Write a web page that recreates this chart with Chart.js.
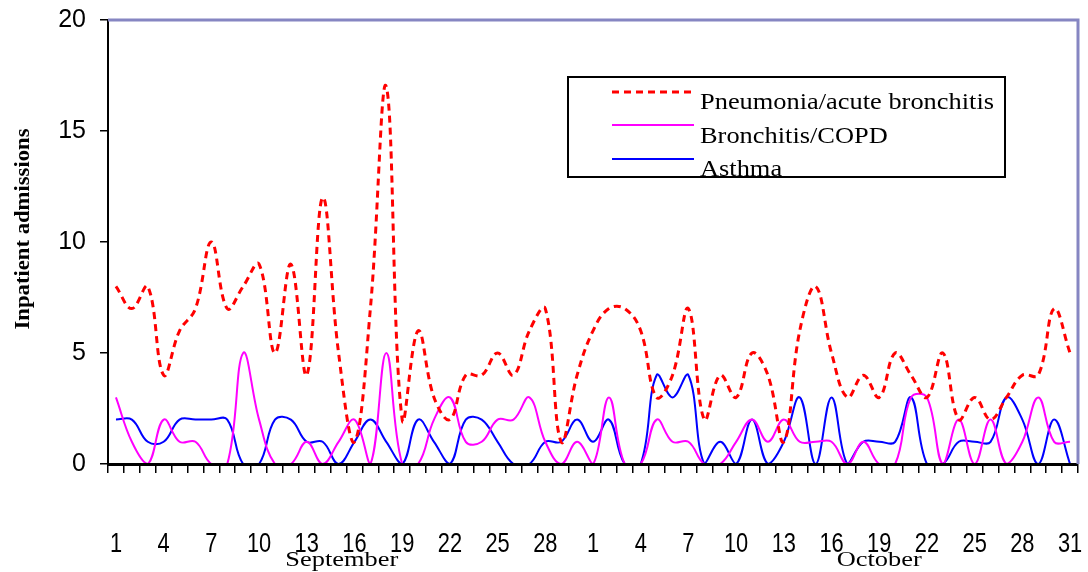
<!DOCTYPE html>
<html>
<head>
<meta charset="utf-8">
<script src="https://cdn.jsdelivr.net/npm/chart.js@4.4.0/dist/chart.umd.min.js"></script>
<style>
  html, body { margin: 0; padding: 0; background: #fff; }
</style>
</head>
<body>
<canvas id="chart" width="1088" height="572"></canvas>
<script>
// Categories: September 1-30 then October 1-31
const days = [
  '1','2','3','4','5','6','7','8','9','10','11','12','13','14','15',
  '16','17','18','19','20','21','22','23','24','25','26','27','28','29','30',
  '1','2','3','4','5','6','7','8','9','10','11','12','13','14','15','16',
  '17','18','19','20','21','22','23','24','25','26','27','28','29','30','31'
];
const months = ['September', 'October'];
const yTicks = [0, 5, 10, 15, 20];

// Daily inpatient admissions
const pneumonia = [
  8, 7, 8, 4, 6, 7, 10, 7, 8, 9, 5, 9, 4, 12, 5,
  1, 7, 17, 2, 6, 3, 2, 4, 4, 5, 4, 6, 7, 1, 4,
  6, 7, 7, 6, 3, 4, 7, 2, 4, 3, 5, 4, 1, 6, 8, 5,
  3, 4, 3, 5, 4, 3, 5, 2, 3, 2, 3, 4, 4, 7, 5
];
const bronchitis = [
  3, 1, 0, 2, 1, 1, 0, 0, 5, 2, 0, 0, 1, 0, 1,
  2, 0, 5, 0, 0, 2, 3, 1, 1, 2, 2, 3, 1, 0, 1,
  0, 3, 0, 0, 2, 1, 1, 0, 0, 1, 2, 1, 2, 1, 1, 1,
  0, 1, 0, 0, 3, 3, 0, 2, 0, 2, 0, 1, 3, 1, 1
];
const asthma = [
  2, 2, 1, 1, 2, 2, 2, 2, 0, 0, 2, 2, 1, 1, 0,
  1, 2, 1, 0, 2, 1, 0, 2, 2, 1, 0, 0, 1, 1, 2,
  1, 2, 0, 0, 4, 3, 4, 0, 1, 0, 2, 0, 1, 3, 0, 3,
  0, 1, 1, 1, 3, 0, 0, 1, 1, 1, 3, 2, 0, 2, 0
];

const serif = '"Liberation Serif", "Times New Roman", serif';
const sans = '"Liberation Sans", Arial, sans-serif';

// draw text squeezed or stretched horizontally
function stretchedText(ctx, text, x, y, sx, align) {
  ctx.save();
  ctx.translate(x, y);
  ctx.scale(sx, 1);
  ctx.textAlign = align || 'left';
  ctx.fillText(text, 0, 0);
  ctx.restore();
}

const decor = {
  id: 'decor',
  afterDraw(chart) {
    const { ctx, chartArea: a, scales } = chart;
    const x = scales.x;
    ctx.save();

    // top and right frame
    ctx.strokeStyle = '#8686c2';
    ctx.lineWidth = 3;
    ctx.beginPath();
    ctx.moveTo(a.left, a.top);
    ctx.lineTo(a.right, a.top);
    ctx.lineTo(a.right, a.bottom);
    ctx.stroke();

    // legend box
    const lx = 568, ly = 77, lw = 437, lh = 100;
    ctx.fillStyle = '#fff';
    ctx.fillRect(lx, ly, lw, lh);
    ctx.strokeStyle = '#000';
    ctx.lineWidth = 2;
    ctx.strokeRect(lx, ly, lw, lh);

    const lineY = [92, 125, 159];
    const textY = [109, 143, 176];
    ctx.font = '24px ' + serif;
    ctx.textBaseline = 'alphabetic';
    chart.data.datasets.forEach((ds, i) => {
      ctx.save();
      ctx.strokeStyle = ds.borderColor;
      ctx.lineWidth = ds.borderWidth;
      ctx.setLineDash(ds.borderDash || []);
      ctx.beginPath();
      ctx.moveTo(612, lineY[i]);
      ctx.lineTo(694, lineY[i]);
      ctx.stroke();
      ctx.restore();
      ctx.fillStyle = '#000';
      ctx.save();
      ctx.beginPath();
      ctx.rect(lx, ly, lw, lh);
      ctx.clip();
      stretchedText(ctx, ds.label, 700, textY[i], 1.1);
      ctx.restore();
    });

    // day labels, every third day, in a narrow face
    ctx.fillStyle = '#000';
    ctx.font = '28px ' + sans;
    days.forEach((d, i) => {
      if (i % 3 === 0) stretchedText(ctx, d, x.getPixelForValue(i), 552, 0.78, 'center');
    });

    // month labels under the day ticks
    ctx.font = '22px ' + serif;
    stretchedText(ctx, months[0], x.getPixelForValue(14.2), 566, 1.2, 'center');
    stretchedText(ctx, months[1], x.getPixelForValue(48), 566, 1.2, 'center');

    // y axis title
    ctx.font = 'bold 21px ' + serif;
    ctx.save();
    ctx.translate(29, 229);
    ctx.rotate(-Math.PI / 2);
    ctx.scale(1.08, 1);
    ctx.textAlign = 'center';
    ctx.fillText('Inpatient admissions', 0, 0);
    ctx.restore();

    ctx.restore();
  }
};

new Chart(document.getElementById('chart'), {
  type: 'line',
  data: {
    labels: days,
    datasets: [
      {
        label: 'Pneumonia/acute bronchitis',
        data: pneumonia,
        borderColor: '#ff0000',
        borderWidth: 3,
        borderDash: [7, 5],
        pointRadius: 0,
        tension: 0.4,
        fill: false
      },
      {
        label: 'Bronchitis/COPD',
        data: bronchitis,
        borderColor: '#ff00ff',
        borderWidth: 2,
        pointRadius: 0,
        tension: 0.4,
        fill: false
      },
      {
        label: 'Asthma',
        data: asthma,
        borderColor: '#0000ff',
        borderWidth: 2,
        pointRadius: 0,
        tension: 0.4,
        fill: false
      }
    ]
  },
  options: {
    responsive: false,
    animation: false,
    layout: { padding: { top: 20, right: 10, left: 0, bottom: 0 } },
    plugins: {
      legend: { display: false },
      tooltip: { enabled: false }
    },
    scales: {
      x: {
        type: 'category',
        offset: true,
        afterFit: s => {
          s.height = 108;
          s.paddingLeft = 0;
          s.paddingRight = 0;
        },
        grid: {
          offset: true,
          drawOnChartArea: false,
          tickLength: 9,
          color: '#000',
          lineWidth: 1.5,
          z: 1
        },
        border: { color: '#000', width: 3, z: 1 },
        ticks: { display: false, autoSkip: false }
      },
      y: {
        min: 0,
        max: 20,
        afterFit: s => {
          s.width = 108;
          s.paddingTop = 0;
          s.paddingBottom = 0;
        },
        afterBuildTicks: s => { s.ticks = yTicks.map(v => ({ value: v })); },
        grid: {
          drawOnChartArea: false,
          tickLength: 8,
          color: '#000',
          lineWidth: 1.5,
          z: 1
        },
        border: { color: '#000', width: 2, z: 1 },
        ticks: {
          padding: 14,
          color: '#000',
          font: { family: sans, size: 25 }
        }
      }
    }
  },
  plugins: [decor]
});
</script>
</body>
</html>
